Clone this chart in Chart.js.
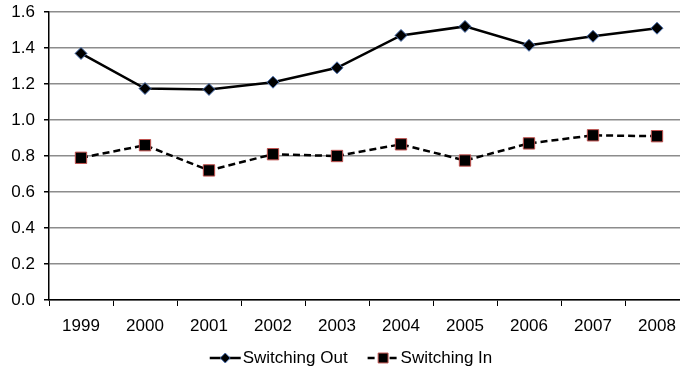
<!DOCTYPE html>
<html>
<head>
<meta charset="utf-8">
<script src="https://cdn.jsdelivr.net/npm/chart.js@4"></script>
<style>
  html, body { margin: 0; padding: 0; background: #fff; overflow: hidden; }
  #wrap { width: 698px; height: 370px; }
</style>
</head>
<body>
<div id="wrap"><canvas id="lineChart" width="698" height="370"></canvas></div>
<script>
var years = ['1999', '2000', '2001', '2002', '2003', '2004', '2005', '2006', '2007', '2008'];
var switchingOut = [1.37, 1.175, 1.17, 1.21, 1.29, 1.47, 1.52, 1.415, 1.465, 1.51];
var switchingIn = [0.79, 0.86, 0.72, 0.81, 0.80, 0.865, 0.775, 0.87, 0.915, 0.91];
var yTicks = [0, 0.2, 0.4, 0.6, 0.8, 1.0, 1.2, 1.4, 1.6];

var fontFamily = '"Liberation Sans", Arial, sans-serif';

// legend with line sample + marker, like the spreadsheet one
var lineLegend = {
    id: 'lineLegend',
    afterDraw: function (chart) {
        var ctx = chart.ctx;
        var y = 358;
        ctx.save();
        ctx.font = '17px ' + fontFamily;
        ctx.textBaseline = 'middle';
        ctx.fillStyle = '#000';

        var items = chart.data.datasets.map(function (ds) {
            return { ds: ds, w: ctx.measureText(ds.label).width };
        });
        var sample = 31, gap = 2, between = 20;
        var total = 0;
        items.forEach(function (it, i) {
            total += sample + gap + it.w + (i ? between : 0);
        });
        var x = 351 - total / 2;

        items.forEach(function (it, i) {
            if (i) x += between;
            var ds = it.ds;
            ctx.strokeStyle = ds.borderColor;
            ctx.lineWidth = 2.5;
            ctx.setLineDash(ds.borderDash || []);
            ctx.beginPath();
            ctx.moveTo(x, y);
            ctx.lineTo(x + sample, y);
            ctx.stroke();
            ctx.setLineDash([]);
            ctx.fillStyle = ds.pointBackgroundColor;
            ctx.strokeStyle = ds.pointBorderColor;
            ctx.lineWidth = ds.pointBorderWidth;
            Chart.helpers.drawPoint(ctx, {
                pointStyle: ds.pointStyle,
                radius: ds.pointRadius - 1,
                borderWidth: ds.pointBorderWidth
            }, x + sample / 2, y);
            x += sample + gap;
            ctx.fillStyle = '#000';
            ctx.fillText(ds.label, x, y);
            x += it.w;
        });
        ctx.restore();
    }
};

var ctx = document.getElementById('lineChart').getContext('2d');
new Chart(ctx, {
    type: 'line',
    data: {
        labels: years,
        datasets: [{
            label: 'Switching Out',
            data: switchingOut,
            borderColor: '#000000',
            borderWidth: 2.5,
            pointStyle: 'rectRot',
            pointRadius: 6,
            pointBackgroundColor: '#000000',
            pointBorderColor: '#4a70b0',
            pointBorderWidth: 1,
            tension: 0
        }, {
            label: 'Switching In',
            data: switchingIn,
            borderColor: '#000000',
            borderWidth: 2.5,
            borderDash: [7, 4],
            pointStyle: 'rect',
            pointRadius: 8,
            pointBackgroundColor: '#000000',
            pointBorderColor: '#c0504d',
            pointBorderWidth: 1,
            tension: 0
        }]
    },
    options: {
        responsive: false,
        animation: false,
        layout: { padding: { top: 12, right: 1, left: 0, bottom: 0 } },
        plugins: {
            legend: { display: false },
            tooltip: { enabled: false }
        },
        scales: {
            x: {
                offset: true,
                grid: {
                    offset: true,
                    drawOnChartArea: false,
                    tickLength: 6,
                    tickColor: '#000',
                    lineWidth: 1
                },
                border: { color: '#000', width: 1.5 },
                ticks: {
                    color: '#000',
                    font: { family: fontFamily, size: 17 },
                    padding: 10,
                    maxRotation: 0
                },
                afterFit: function (scale) { scale.height = 70; }
            },
            y: {
                min: 0,
                max: 1.6,
                afterBuildTicks: function (scale) {
                    scale.ticks = yTicks.map(function (v) { return { value: v }; });
                },
                grid: {
                    color: '#8c8c8c',
                    lineWidth: 1.5,
                    tickLength: 5,
                    tickColor: '#000'
                },
                border: { color: '#000', width: 1.5 },
                ticks: {
                    color: '#000',
                    font: { family: fontFamily, size: 17 },
                    padding: 9,
                    callback: function (v) { return Number(v).toFixed(1); }
                },
                afterFit: function (scale) {
                    scale.width = 49;
                    scale.paddingTop = 0;
                    scale.paddingBottom = 0;
                }
            }
        }
    },
    plugins: [lineLegend]
});
</script>
</body>
</html>
